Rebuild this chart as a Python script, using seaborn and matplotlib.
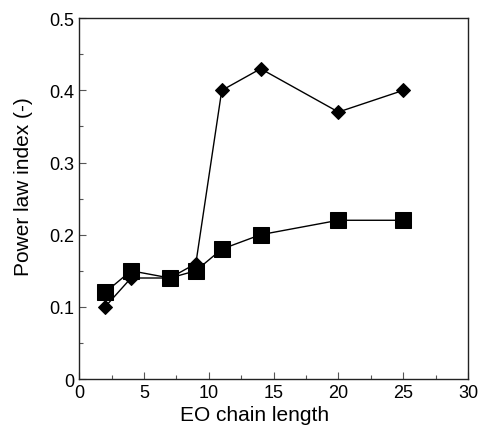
import matplotlib
matplotlib.use("Agg")
import matplotlib.pyplot as plt
import seaborn as sns
import pandas as pd
from matplotlib.ticker import MultipleLocator, FuncFormatter

eo_length = [2, 4, 7, 9, 11, 14, 20, 25]
diamond_vals = [0.10, 0.14, 0.14, 0.16, 0.40, 0.43, 0.37, 0.40]
square_vals = [0.12, 0.15, 0.14, 0.15, 0.18, 0.20, 0.22, 0.22]

sns.set_style("ticks")
plt.rcParams['font.family'] = ['Liberation Sans', 'DejaVu Sans']

fig = plt.figure(figsize=(4.8, 4.27), dpi=100)
ax = fig.add_axes([0.165, 0.110, 0.810, 0.845])

df_d = pd.DataFrame({"x": eo_length, "y": diamond_vals})
df_s = pd.DataFrame({"x": eo_length, "y": square_vals})
sns.lineplot(data=df_d, x="x", y="y", ax=ax, color="black", lw=1.0,
             marker="D", markersize=7, markeredgecolor="black", markerfacecolor="black")
sns.lineplot(data=df_s, x="x", y="y", ax=ax, color="black", lw=1.0,
             marker="s", markersize=11, markeredgecolor="black", markerfacecolor="black")

ax.set_xlim(0, 30)
ax.set_ylim(0, 0.5)
ax.xaxis.set_major_locator(MultipleLocator(5))
ax.xaxis.set_minor_locator(MultipleLocator(2.5))
ax.yaxis.set_major_locator(MultipleLocator(0.1))
ax.yaxis.set_minor_locator(MultipleLocator(0.05))
ax.yaxis.set_major_formatter(FuncFormatter(lambda v, p: "0" if abs(v) < 1e-9 else f"{v:.1f}"))
ax.tick_params(which="both", direction="in", top=False, right=False, labelsize=13,
               width=0.8, colors="#555555", labelcolor="black")
ax.tick_params(which="major", length=5)
ax.tick_params(which="minor", length=3)
for s in ax.spines.values():
    s.set_linewidth(1.0)
    s.set_color("#222222")
ax.set_xlabel("EO chain length", fontsize=15, color="black")
ax.set_ylabel("Power law index (-)", fontsize=15, color="black")
ax.xaxis.set_label_coords(0.45, -0.072)
ax.yaxis.set_label_coords(-0.12, 0.535)

fig.savefig("out.png", dpi=100)
